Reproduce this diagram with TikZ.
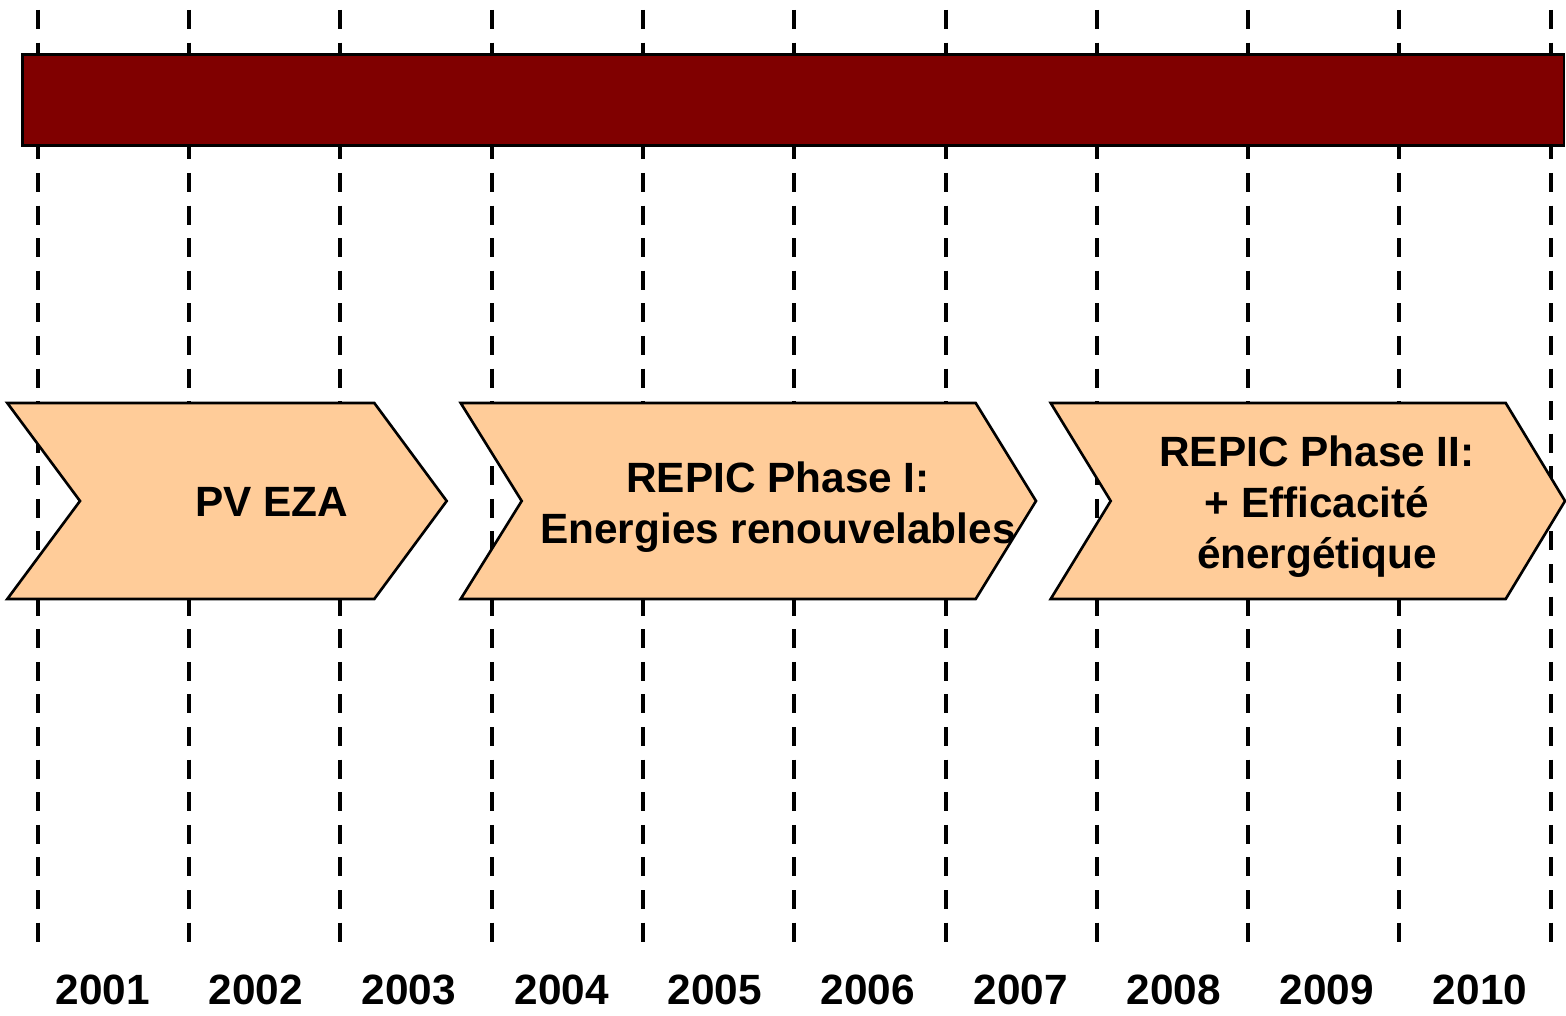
\documentclass[tikz,border=0pt]{standalone}
\usepackage{fontspec}
\setmainfont{Liberation Sans}
\usepackage{tikz}
\definecolor{barred}{RGB}{128,0,0}
\definecolor{phasefill}{RGB}{255,204,153}

\begin{document}
\begin{tikzpicture}[x=0.02cm, y=-0.02cm,
    yearline/.style={line width=2.27pt, dash pattern=on 0.38cm off 0.272cm},
    phase/.style={draw=black, line width=1.5pt, fill=phasefill},
    phasetext/.style={font=\fontsize{24.1}{29}\selectfont\bfseries, align=center, inner sep=0pt},
    yeartext/.style={font=\fontsize{24.1}{29}\selectfont\bfseries, inner sep=0pt, anchor=base}]
                \useasboundingbox (0,0) rectangle (1566,1016);
                \foreach \i in {0,...,10}
                    \draw[yearline] (37.7+151.3*\i,10) -- (37.7+151.3*\i,944);
                \draw[fill=barred, line width=1.4pt] (22.3,54.3) rectangle (1564,145.3);
                \draw[phase] (7.3,403) -- (374.3,403) -- (446.7,501) -- (374.3,599)
                    -- (7.3,599) -- (80,501) -- cycle;
                \draw[phase] (460.7,403) -- (975.7,403) -- (1036,501) -- (975.7,599)
                    -- (460.7,599) -- (521.7,501) -- cycle;
                \draw[phase] (1050.7,403) -- (1505.7,403) -- (1565,501) -- (1505.7,599)
                    -- (1050.7,599) -- (1110.7,501) -- cycle;
                \node[phasetext, anchor=base] (pveza) at (272,517) {PV EZA};
                \node[phasetext] (phase1) at (778,507) {REPIC Phase I:\\Energies renouvelables};
                \node[phasetext] (phase2) at (1317,506.5) {REPIC Phase II:\\+ Efficacité\\énergétique};
                \foreach \y [count=\i from 0] in {2001,...,2010}
                    \node[yeartext] (y\y) at (103+153*\i,1004) {\y};
            \end{tikzpicture}
\end{document}
